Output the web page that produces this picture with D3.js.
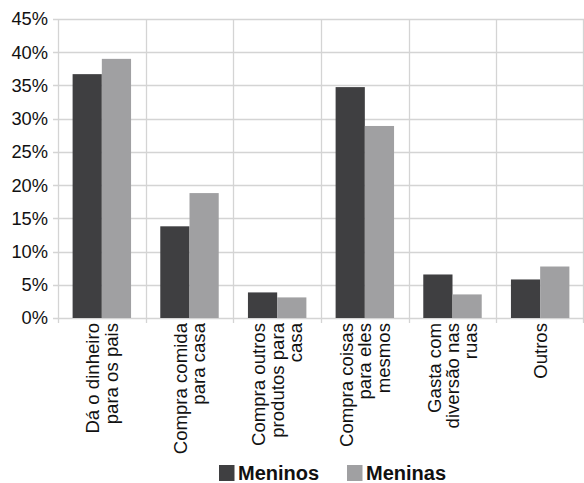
<!DOCTYPE html>
<html>
<head>
<meta charset="utf-8">
<script src="https://cdn.jsdelivr.net/npm/d3@7"></script>
<style>
  html, body { margin: 0; padding: 0; background: #fff; }
  svg { display: block; font-family: "Liberation Sans", Arial, sans-serif; }
</style>
</head>
<body>
<svg id="chart" width="584" height="483"></svg>
<script>
// Destino do dinheiro, por sexo (%)
const categories = [
  ["Dá o dinheiro", "para os pais"],
  ["Compra comida", "para casa"],
  ["Compra outros", "produtos para", "casa"],
  ["Compra coisas", "para eles", "mesmos"],
  ["Gasta com", "diversão nas", "ruas"],
  ["Outros"]
];
const seriesNames = ["Meninos", "Meninas"];
const meninos = [36.7, 13.8, 3.85, 34.75, 6.55, 5.8];
const meninas = [39.0, 18.8, 3.1, 28.9, 3.55, 7.75];
const yTicks = [0, 5, 10, 15, 20, 25, 30, 35, 40, 45];
const colors = ["#3f3f41", "#a0a0a2"];

const svg = d3.select("#chart");
const plotLeft = 58, plotRight = 584, plotTop = 19, plotBottom = 318;
const catKeys = categories.map((c, i) => i);

const x0 = d3.scaleBand().domain(catKeys).range([plotLeft, plotRight]).padding(0);
const x1 = d3.scaleBand().domain(seriesNames).range([0, x0.bandwidth()])
  .paddingInner(0).paddingOuter(0.5);
const y = d3.scaleLinear().domain([0, 45]).range([plotBottom, plotTop]);

const gridColor = "#d4d4d4";

// horizontal gridlines with short ticks left of the axis
svg.append("g").selectAll("line").data(yTicks).join("line")
  .attr("x1", plotLeft - 5).attr("x2", plotRight)
  .attr("y1", d => Math.round(y(d)) + 0.5).attr("y2", d => Math.round(y(d)) + 0.5)
  .attr("stroke", gridColor).attr("stroke-width", 1.3);

// vertical category separators, extending slightly below the axis
const bounds = catKeys.map(k => x0(k)).concat([plotRight - 1]);
svg.append("g").selectAll("line").data(bounds).join("line")
  .attr("x1", d => Math.round(d) + 0.5).attr("x2", d => Math.round(d) + 0.5)
  .attr("y1", plotTop).attr("y2", plotBottom + 5)
  .attr("stroke", gridColor).attr("stroke-width", 1.3);

// y tick labels
svg.append("g").selectAll("text").data(yTicks).join("text")
  .attr("x", 48).attr("y", d => y(d)).attr("dy", "0.35em")
  .attr("text-anchor", "end").attr("font-size", 18.3).attr("fill", "#111")
  .text(d => d + "%");

// bars
const series = [meninos, meninas];
const gBars = svg.append("g");
series.forEach((vals, si) => {
  gBars.selectAll(null).data(vals).join("rect")
    .attr("x", (d, i) => x0(i) + x1(seriesNames[si]))
    .attr("width", x1.bandwidth())
    .attr("y", d => y(d))
    .attr("height", d => y(0) - y(d))
    .attr("fill", colors[si]);
});

// category labels, rotated, multi-line
const lineGap = 18.3;
const labels = svg.append("g").selectAll("text").data(categories).join("text")
  .attr("transform", (d, i) => `translate(${x0(i) + x0.bandwidth() / 2},${plotBottom + 5}) rotate(-90)`)
  .attr("text-anchor", "end").attr("font-size", 18.6).attr("fill", "#111");
labels.each(function(lines) {
  const n = lines.length;
  d3.select(this).selectAll("tspan").data(lines).join("tspan")
    .attr("x", 0)
    .attr("y", (d, j) => (j - (n - 1) / 2) * lineGap)
    .attr("dy", "0.35em")
    .text(d => d);
});

// legend
const legendX = [219, 347];
const leg = svg.append("g").selectAll("g").data(seriesNames).join("g")
  .attr("transform", (d, i) => `translate(${legendX[i]},465)`);
leg.append("rect").attr("width", 15.5).attr("height", 16)
  .attr("fill", (d, i) => colors[i]);
leg.append("text").attr("x", 19).attr("y", 15.3)
  .attr("font-size", 20).attr("font-weight", "bold").attr("fill", "#111")
  .text(d => d);
</script>
</body>
</html>
